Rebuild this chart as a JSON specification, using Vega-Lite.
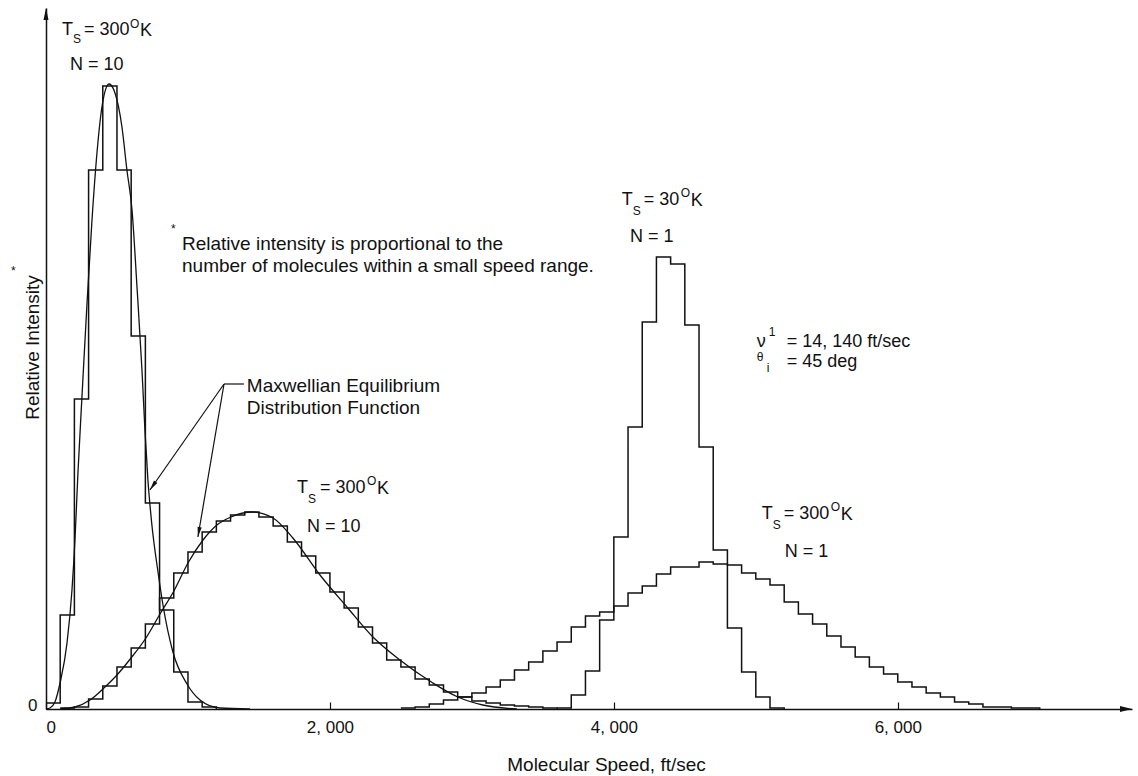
{
  "$schema": "https://vega.github.io/schema/vega-lite/v6.json",
  "width": 1086,
  "height": 701,
  "autosize": {"type": "none"},
  "padding": {"left": 46, "top": 8, "right": 6, "bottom": 67},
  "background": "white",
  "config": {
    "view": {"stroke": null},
    "axis": {
      "grid": false,
      "labelFont": "Liberation Sans",
      "titleFont": "Liberation Sans",
      "labelFontSize": 17,
      "titleFontSize": 19,
      "titleFontWeight": "normal",
      "labelColor": "#111",
      "titleColor": "#111",
      "domainColor": "#111",
      "domainWidth": 1.5,
      "tickColor": "#111"
    }
  },
  "datasets": {
    "hist": [
      {"series": "n10_narrow", "speed": 0, "intensity": 6},
      {"series": "n10_narrow", "speed": 100, "intensity": 94},
      {"series": "n10_narrow", "speed": 200, "intensity": 310},
      {"series": "n10_narrow", "speed": 300, "intensity": 539},
      {"series": "n10_narrow", "speed": 400, "intensity": 623},
      {"series": "n10_narrow", "speed": 500, "intensity": 539},
      {"series": "n10_narrow", "speed": 600, "intensity": 373},
      {"series": "n10_narrow", "speed": 700, "intensity": 206},
      {"series": "n10_narrow", "speed": 800, "intensity": 99},
      {"series": "n10_narrow", "speed": 900, "intensity": 37},
      {"series": "n10_narrow", "speed": 1000, "intensity": 7},
      {"series": "n10_narrow", "speed": 1100, "intensity": 2},
      {"series": "n10_narrow", "speed": 1200, "intensity": 0},

      {"series": "n10_broad", "speed": 100, "intensity": 1},
      {"series": "n10_broad", "speed": 200, "intensity": 2},
      {"series": "n10_broad", "speed": 300, "intensity": 10},
      {"series": "n10_broad", "speed": 400, "intensity": 23},
      {"series": "n10_broad", "speed": 500, "intensity": 42},
      {"series": "n10_broad", "speed": 600, "intensity": 61},
      {"series": "n10_broad", "speed": 700, "intensity": 85},
      {"series": "n10_broad", "speed": 800, "intensity": 111},
      {"series": "n10_broad", "speed": 900, "intensity": 136},
      {"series": "n10_broad", "speed": 1000, "intensity": 157},
      {"series": "n10_broad", "speed": 1100, "intensity": 177},
      {"series": "n10_broad", "speed": 1200, "intensity": 188},
      {"series": "n10_broad", "speed": 1300, "intensity": 194},
      {"series": "n10_broad", "speed": 1400, "intensity": 197},
      {"series": "n10_broad", "speed": 1500, "intensity": 192},
      {"series": "n10_broad", "speed": 1600, "intensity": 183},
      {"series": "n10_broad", "speed": 1700, "intensity": 167},
      {"series": "n10_broad", "speed": 1800, "intensity": 153},
      {"series": "n10_broad", "speed": 1900, "intensity": 136},
      {"series": "n10_broad", "speed": 2000, "intensity": 117},
      {"series": "n10_broad", "speed": 2100, "intensity": 101},
      {"series": "n10_broad", "speed": 2200, "intensity": 82},
      {"series": "n10_broad", "speed": 2300, "intensity": 66},
      {"series": "n10_broad", "speed": 2400, "intensity": 49},
      {"series": "n10_broad", "speed": 2500, "intensity": 42},
      {"series": "n10_broad", "speed": 2600, "intensity": 30},
      {"series": "n10_broad", "speed": 2700, "intensity": 24},
      {"series": "n10_broad", "speed": 2800, "intensity": 17},
      {"series": "n10_broad", "speed": 2900, "intensity": 12},
      {"series": "n10_broad", "speed": 3000, "intensity": 8},
      {"series": "n10_broad", "speed": 3100, "intensity": 6},
      {"series": "n10_broad", "speed": 3200, "intensity": 4},
      {"series": "n10_broad", "speed": 3300, "intensity": 3},
      {"series": "n10_broad", "speed": 3400, "intensity": 2},
      {"series": "n10_broad", "speed": 3500, "intensity": 1},
      {"series": "n10_broad", "speed": 3600, "intensity": 0},

      {"series": "t30_n1", "speed": 3600, "intensity": 1},
      {"series": "t30_n1", "speed": 3700, "intensity": 14},
      {"series": "t30_n1", "speed": 3800, "intensity": 38},
      {"series": "t30_n1", "speed": 3900, "intensity": 89},
      {"series": "t30_n1", "speed": 4000, "intensity": 172},
      {"series": "t30_n1", "speed": 4100, "intensity": 282},
      {"series": "t30_n1", "speed": 4200, "intensity": 387},
      {"series": "t30_n1", "speed": 4300, "intensity": 452},
      {"series": "t30_n1", "speed": 4400, "intensity": 445},
      {"series": "t30_n1", "speed": 4500, "intensity": 384},
      {"series": "t30_n1", "speed": 4600, "intensity": 262},
      {"series": "t30_n1", "speed": 4700, "intensity": 159},
      {"series": "t30_n1", "speed": 4800, "intensity": 81},
      {"series": "t30_n1", "speed": 4900, "intensity": 37},
      {"series": "t30_n1", "speed": 5000, "intensity": 12},
      {"series": "t30_n1", "speed": 5100, "intensity": 1},
      {"series": "t30_n1", "speed": 5200, "intensity": 0},

      {"series": "t300_n1", "speed": 2500, "intensity": 1},
      {"series": "t300_n1", "speed": 2600, "intensity": 2},
      {"series": "t300_n1", "speed": 2700, "intensity": 5},
      {"series": "t300_n1", "speed": 2800, "intensity": 9},
      {"series": "t300_n1", "speed": 2900, "intensity": 12},
      {"series": "t300_n1", "speed": 3000, "intensity": 16},
      {"series": "t300_n1", "speed": 3100, "intensity": 22},
      {"series": "t300_n1", "speed": 3200, "intensity": 29},
      {"series": "t300_n1", "speed": 3300, "intensity": 39},
      {"series": "t300_n1", "speed": 3400, "intensity": 47},
      {"series": "t300_n1", "speed": 3500, "intensity": 58},
      {"series": "t300_n1", "speed": 3600, "intensity": 67},
      {"series": "t300_n1", "speed": 3700, "intensity": 82},
      {"series": "t300_n1", "speed": 3800, "intensity": 93},
      {"series": "t300_n1", "speed": 3900, "intensity": 97},
      {"series": "t300_n1", "speed": 4000, "intensity": 103},
      {"series": "t300_n1", "speed": 4100, "intensity": 116},
      {"series": "t300_n1", "speed": 4200, "intensity": 123},
      {"series": "t300_n1", "speed": 4300, "intensity": 135},
      {"series": "t300_n1", "speed": 4400, "intensity": 142},
      {"series": "t300_n1", "speed": 4500, "intensity": 142},
      {"series": "t300_n1", "speed": 4600, "intensity": 147},
      {"series": "t300_n1", "speed": 4700, "intensity": 145},
      {"series": "t300_n1", "speed": 4800, "intensity": 144},
      {"series": "t300_n1", "speed": 4900, "intensity": 136},
      {"series": "t300_n1", "speed": 5000, "intensity": 130},
      {"series": "t300_n1", "speed": 5100, "intensity": 124},
      {"series": "t300_n1", "speed": 5200, "intensity": 107},
      {"series": "t300_n1", "speed": 5300, "intensity": 95},
      {"series": "t300_n1", "speed": 5400, "intensity": 85},
      {"series": "t300_n1", "speed": 5500, "intensity": 73},
      {"series": "t300_n1", "speed": 5600, "intensity": 62},
      {"series": "t300_n1", "speed": 5700, "intensity": 52},
      {"series": "t300_n1", "speed": 5800, "intensity": 42},
      {"series": "t300_n1", "speed": 5900, "intensity": 35},
      {"series": "t300_n1", "speed": 6000, "intensity": 27},
      {"series": "t300_n1", "speed": 6100, "intensity": 22},
      {"series": "t300_n1", "speed": 6200, "intensity": 16},
      {"series": "t300_n1", "speed": 6300, "intensity": 12},
      {"series": "t300_n1", "speed": 6400, "intensity": 7},
      {"series": "t300_n1", "speed": 6500, "intensity": 5},
      {"series": "t300_n1", "speed": 6600, "intensity": 2},
      {"series": "t300_n1", "speed": 6700, "intensity": 2},
      {"series": "t300_n1", "speed": 6800, "intensity": 1},
      {"series": "t300_n1", "speed": 6900, "intensity": 1},
      {"series": "t300_n1", "speed": 7000, "intensity": 0}
    ],
    "curves": [
      {"curve": "narrow", "speed": 0, "intensity": 0},
      {"curve": "narrow", "speed": 28, "intensity": 1},
      {"curve": "narrow", "speed": 63, "intensity": 7},
      {"curve": "narrow", "speed": 99, "intensity": 26},
      {"curve": "narrow", "speed": 148, "intensity": 66},
      {"curve": "narrow", "speed": 183, "intensity": 119},
      {"curve": "narrow", "speed": 204, "intensity": 169},
      {"curve": "narrow", "speed": 225, "intensity": 236},
      {"curve": "narrow", "speed": 254, "intensity": 314},
      {"curve": "narrow", "speed": 289, "intensity": 406},
      {"curve": "narrow", "speed": 324, "intensity": 489},
      {"curve": "narrow", "speed": 359, "intensity": 556},
      {"curve": "narrow", "speed": 394, "intensity": 602},
      {"curve": "narrow", "speed": 444, "intensity": 625},
      {"curve": "narrow", "speed": 486, "intensity": 616},
      {"curve": "narrow", "speed": 535, "intensity": 582},
      {"curve": "narrow", "speed": 570, "intensity": 539},
      {"curve": "narrow", "speed": 606, "intensity": 499},
      {"curve": "narrow", "speed": 641, "intensity": 422},
      {"curve": "narrow", "speed": 676, "intensity": 339},
      {"curve": "narrow", "speed": 697, "intensity": 279},
      {"curve": "narrow", "speed": 718, "intensity": 229},
      {"curve": "narrow", "speed": 746, "intensity": 184},
      {"curve": "narrow", "speed": 789, "intensity": 137},
      {"curve": "narrow", "speed": 824, "intensity": 104},
      {"curve": "narrow", "speed": 894, "intensity": 57},
      {"curve": "narrow", "speed": 993, "intensity": 25},
      {"curve": "narrow", "speed": 1085, "intensity": 9},
      {"curve": "narrow", "speed": 1225, "intensity": 1},
      {"curve": "narrow", "speed": 1437, "intensity": 0},

      {"curve": "broad", "speed": 99, "intensity": 0},
      {"curve": "broad", "speed": 204, "intensity": 2},
      {"curve": "broad", "speed": 310, "intensity": 9},
      {"curve": "broad", "speed": 408, "intensity": 21},
      {"curve": "broad", "speed": 500, "intensity": 34},
      {"curve": "broad", "speed": 599, "intensity": 51},
      {"curve": "broad", "speed": 704, "intensity": 71},
      {"curve": "broad", "speed": 803, "intensity": 95},
      {"curve": "broad", "speed": 901, "intensity": 118},
      {"curve": "broad", "speed": 1000, "intensity": 146},
      {"curve": "broad", "speed": 1106, "intensity": 169},
      {"curve": "broad", "speed": 1204, "intensity": 184},
      {"curve": "broad", "speed": 1303, "intensity": 192},
      {"curve": "broad", "speed": 1451, "intensity": 197},
      {"curve": "broad", "speed": 1599, "intensity": 191},
      {"curve": "broad", "speed": 1739, "intensity": 171},
      {"curve": "broad", "speed": 1930, "intensity": 134},
      {"curve": "broad", "speed": 2120, "intensity": 102},
      {"curve": "broad", "speed": 2303, "intensity": 72},
      {"curve": "broad", "speed": 2493, "intensity": 49},
      {"curve": "broad", "speed": 2725, "intensity": 26},
      {"curve": "broad", "speed": 2901, "intensity": 12},
      {"curve": "broad", "speed": 3077, "intensity": 4},
      {"curve": "broad", "speed": 3317, "intensity": 0}
    ],
    "leaders": [
      {"speed": 1254, "intensity": 325, "speed2": 1394, "intensity2": 325},
      {"speed": 1254, "intensity": 325, "speed2": 732, "intensity2": 219},
      {"speed": 1254, "intensity": 325, "speed2": 1070, "intensity2": 172}
    ],
    "tipA": [{"speed": 732, "intensity": 219}],
    "tipB": [{"speed": 1070, "intensity": 172}],
    "yArrow": [{"speed": 0, "intensity": 701}],
    "xArrow": [{"speed": 7650, "intensity": 0}],
    "labels": [
      {"text": "T", "speed": 113, "intensity": 674},
      {"text": "= 300", "speed": 268, "intensity": 674},
      {"text": "K", "speed": 662, "intensity": 673},
      {"text": "N = 10", "speed": 169, "intensity": 639},
      {"text": "T", "speed": 1768, "intensity": 216},
      {"text": "= 300", "speed": 1930, "intensity": 216},
      {"text": "K", "speed": 2331, "intensity": 215},
      {"text": "N = 10", "speed": 1838, "intensity": 177},
      {"text": "T", "speed": 4056, "intensity": 504},
      {"text": "= 30", "speed": 4211, "intensity": 504},
      {"text": "K", "speed": 4542, "intensity": 503},
      {"text": "N = 1", "speed": 4113, "intensity": 467},
      {"text": "T", "speed": 5042, "intensity": 190},
      {"text": "= 300", "speed": 5197, "intensity": 190},
      {"text": "K", "speed": 5599, "intensity": 189},
      {"text": "N = 1", "speed": 5204, "intensity": 152},
      {"text": "ν", "speed": 5007, "intensity": 362},
      {"text": "= 14, 140 ft/sec", "speed": 5218, "intensity": 362},
      {"text": "= 45 deg", "speed": 5218, "intensity": 342}
    ],
    "notes": [
      {"text": "Relative intensity is proportional to the", "speed": 958, "intensity": 459},
      {"text": "number of molecules within a small speed range.", "speed": 958, "intensity": 437},
      {"text": "Maxwellian Equilibrium", "speed": 1415, "intensity": 317},
      {"text": "Distribution Function", "speed": 1415, "intensity": 295}
    ],
    "smallLabels": [
      {"text": "S", "speed": 190, "intensity": 666},
      {"text": "O", "speed": 592, "intensity": 681},
      {"text": "S", "speed": 1845, "intensity": 206},
      {"text": "O", "speed": 2261, "intensity": 224},
      {"text": "S", "speed": 4134, "intensity": 494},
      {"text": "O", "speed": 4472, "intensity": 512},
      {"text": "S", "speed": 5120, "intensity": 180},
      {"text": "O", "speed": 5528, "intensity": 198},
      {"text": "1", "speed": 5092, "intensity": 373},
      {"text": "θ", "speed": 5007, "intensity": 348},
      {"text": "i", "speed": 5077, "intensity": 337},
      {"text": "*", "speed": 880, "intensity": 476},
      {"text": "*", "speed": -247, "intensity": 434}
    ]
  },
  "encoding": {
    "x": {
      "field": "speed",
      "type": "quantitative",
      "scale": {"domain": [0, 7650], "nice": false, "zero": false},
      "axis": {
        "title": "Molecular Speed, ft/sec",
        "values": [0, 2000, 4000, 6000],
        "labelExpr": "datum.value == 0 ? '0' : replace(format(datum.value, ','), ',', ', ')",
        "labelFlush": true,
        "tickSize": -7,
        "tickWidth": 1.2,
        "labelPadding": 17,
        "titleX": 560,
        "titleY": 61,
        "titleBaseline": "alphabetic",
        "titleAlign": "center"
      }
    },
    "y": {
      "field": "intensity",
      "type": "quantitative",
      "scale": {"domain": [0, 701], "nice": false, "zero": true},
      "axis": {
        "title": "Relative Intensity",
        "values": [0],
        "ticks": false,
        "labelPadding": 9,
        "labelOffset": -4,
        "titleAngle": -90,
        "titleX": -14,
        "titleY": 339,
        "titleAlign": "center",
        "titleBaseline": "middle"
      }
    }
  },
  "layer": [
    {
      "data": {"name": "hist"},
      "mark": {"type": "line", "interpolate": "step-after", "color": "#111", "strokeWidth": 1.5},
      "encoding": {"detail": {"field": "series", "type": "nominal"}}
    },
    {
      "data": {"name": "curves"},
      "mark": {"type": "line", "interpolate": "monotone", "color": "#111", "strokeWidth": 1.3},
      "encoding": {"detail": {"field": "curve", "type": "nominal"}}
    },
    {
      "data": {"name": "leaders"},
      "mark": {"type": "rule", "color": "#111", "strokeWidth": 1.2},
      "encoding": {
        "x2": {"field": "speed2"},
        "y2": {"field": "intensity2"}
      }
    },
    {
      "data": {"name": "tipA"},
      "mark": {"type": "point", "shape": "M0,0L-0.5,2.4L0.5,2.4Z", "filled": true, "color": "#111", "opacity": 1, "size": 70, "angle": 215}
    },
    {
      "data": {"name": "tipB"},
      "mark": {"type": "point", "shape": "M0,0L-0.5,2.4L0.5,2.4Z", "filled": true, "color": "#111", "opacity": 1, "size": 70, "angle": 190}
    },
    {
      "data": {"name": "yArrow"},
      "mark": {"type": "point", "shape": "M0,0L-0.5,2.4L0.5,2.4Z", "filled": true, "color": "#111", "opacity": 1, "size": 100}
    },
    {
      "data": {"name": "xArrow"},
      "mark": {"type": "point", "shape": "M0,0L-2.4,-0.6L-2.4,0.6Z", "filled": true, "color": "#111", "opacity": 1, "size": 100}
    },
    {
      "data": {"name": "labels"},
      "mark": {"type": "text", "align": "left", "baseline": "alphabetic", "font": "Liberation Sans", "fontSize": 18, "color": "#111"},
      "encoding": {"text": {"field": "text", "type": "nominal"}}
    },
    {
      "data": {"name": "notes"},
      "mark": {"type": "text", "align": "left", "baseline": "alphabetic", "font": "Liberation Sans", "fontSize": 19, "color": "#111"},
      "encoding": {"text": {"field": "text", "type": "nominal"}}
    },
    {
      "data": {"name": "smallLabels"},
      "mark": {"type": "text", "align": "left", "baseline": "alphabetic", "font": "Liberation Sans", "fontSize": 12, "color": "#111"},
      "encoding": {"text": {"field": "text", "type": "nominal"}}
    }
  ]
}
